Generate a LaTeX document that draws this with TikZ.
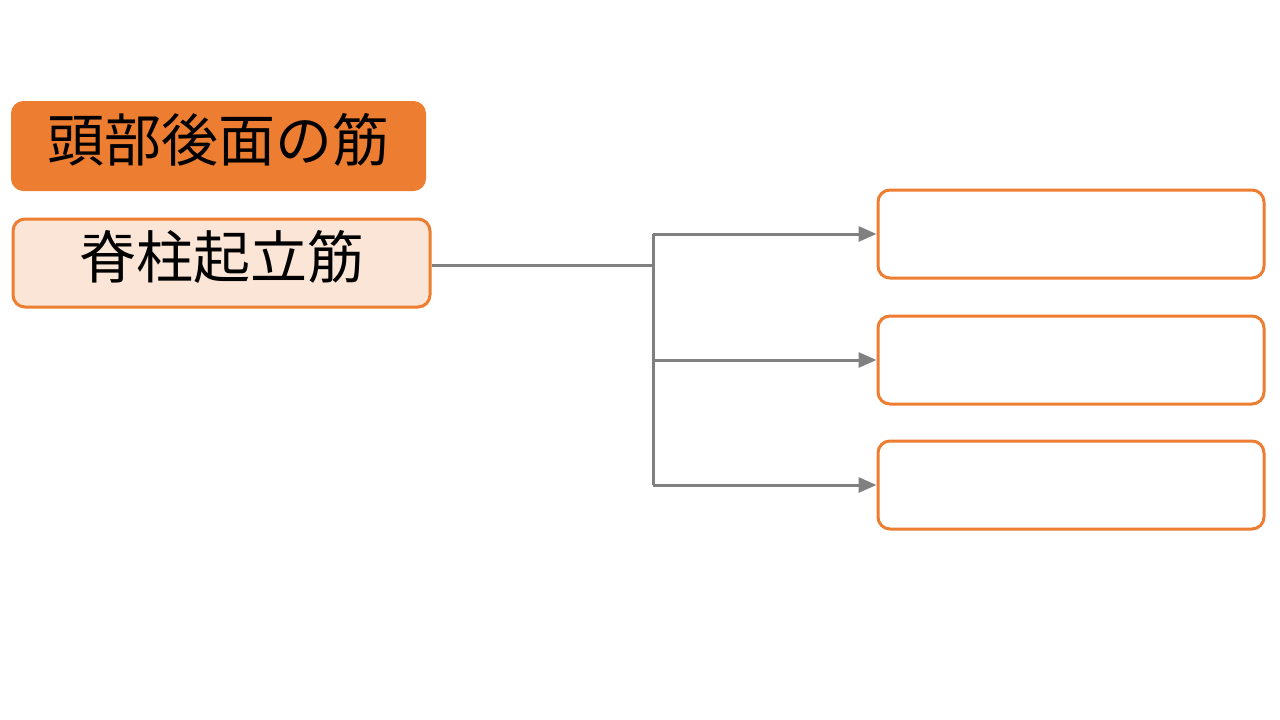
\documentclass[tikz,border=0pt]{standalone}
\usepackage{fontspec}
\setmainfont{Noto Sans CJK JP}
\usetikzlibrary{arrows.meta}
\definecolor{org}{HTML}{ED7D31}
\definecolor{peach}{HTML}{FBE5D6}
\definecolor{gry}{HTML}{808080}
\newcommand{\liftup}[1]{\raisebox{6pt}[\height][\depth]{#1}}
\begin{document}
\begin{tikzpicture}[x=1pt,y=-1pt,
  titlebox/.style={rectangle,rounded corners=12pt,fill=org,draw=org,line width=1pt,minimum width=414pt,minimum height=89pt,inner sep=0pt,font=\fontsize{57}{62}\selectfont,text=black},
  mainbox/.style={rectangle,rounded corners=12pt,fill=peach,draw=org,line width=3pt,minimum width=417pt,minimum height=88pt,inner sep=0pt,font=\fontsize{57}{62}\selectfont,text=black},
  emptybox/.style={rectangle,rounded corners=12pt,fill=white,draw=org,line width=3pt,minimum width=386pt,minimum height=88pt,inner sep=0pt},
  conn/.style={draw=gry,line width=3pt},
  arr/.style={conn,-{Triangle[length=18pt,width=15pt]}}]
\useasboundingbox (0,0) rectangle (1280,720);
\node[titlebox] (t) at (218.5,146) {\liftup{頭部後面の筋}};
\node[mainbox] (m) at (221.5,263) {\liftup{脊柱起立筋}};
\node[emptybox] (r1) at (1071,234) {};
\node[emptybox] (r2) at (1071,360) {};
\node[emptybox] (r3) at (1071,485) {};
\coordinate (j) at (653,265);
\draw[conn] (m.east |- j) -- (j);
\draw[conn] (r1.west -| j) -- (r3.west -| j);
\draw[arr] (r1.west -| j) -- (r1.west);
\draw[arr] (r2.west -| j) -- (r2.west);
\draw[arr] (r3.west -| j) -- (r3.west);
\end{tikzpicture}
\end{document}
